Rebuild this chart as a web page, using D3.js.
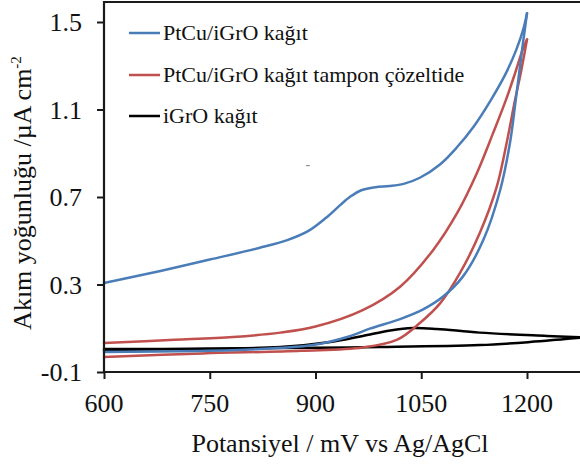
<!DOCTYPE html>
<html>
<head>
<meta charset="utf-8">
<script src="https://cdn.jsdelivr.net/npm/d3@7"></script>
</head>
<body style="margin:0">
<svg id="chart" width="580" height="468"></svg>
<script>
// Axis ticks
const xTicks = [600, 750, 900, 1050, 1200];
const yTicks = [-0.1, 0.3, 0.7, 1.1, 1.5];

// Series names and colours
const seriesNames = ["PtCu/iGrO kağıt", "PtCu/iGrO kağıt tampon çözeltide", "iGrO kağıt"];
const seriesColors = ["#4a7db8", "#c0504d", "#000000"];

// Cyclic voltammograms: [potential (mV), current density (µA cm-2)]
// PtCu/iGrO paper: anodic sweep and return sweep
const ptcuForward = [[600, 0.307], [680, 0.362], [750, 0.414], [821, 0.468], [860, 0.503], [890, 0.545],
  [915, 0.605], [935, 0.663], [950, 0.703], [965, 0.731], [985, 0.745], [1005, 0.750], [1025, 0.760],
  [1048, 0.788], [1077, 0.850], [1100, 0.925], [1125, 1.025], [1150, 1.150], [1170, 1.265], [1185, 1.375],
  [1195, 1.47], [1200, 1.54]];
const ptcuReverse = [[600, -0.009], [736, -0.004], [821, 0.005], [896, 0.023], [945, 0.060], [977, 0.098],
  [1020, 0.142], [1052, 0.185], [1081, 0.245], [1109, 0.336], [1138, 0.503], [1162, 0.732], [1176, 0.950],
  [1184, 1.143], [1193, 1.372], [1200, 1.54]];

// PtCu/iGrO paper in buffer solution
const bufferForward = [[600, 0.033], [700, 0.047], [783, 0.060], [850, 0.080], [900, 0.108], [967, 0.183],
  [1020, 0.290], [1067, 0.458], [1101, 0.627], [1129, 0.810], [1152, 0.993], [1170, 1.143], [1183, 1.265],
  [1194, 1.375], [1200, 1.42]];
const bufferReverse = [[600, -0.031], [740, -0.015], [880, -0.003], [967, 0.012], [1016, 0.048], [1048, 0.124],
  [1077, 0.215], [1105, 0.353], [1133, 0.535], [1157, 0.746], [1172, 0.961], [1183, 1.143], [1192, 1.281],
  [1200, 1.42]];

// Bare iGrO paper
const igroForward = [[600, 0.005], [850, 0.014], [921, 0.037], [967, 0.065], [1006, 0.090], [1038, 0.101],
  [1072, 0.097], [1133, 0.080], [1228, 0.065], [1280, 0.058]];
const igroReverse = [[600, 0.001], [850, 0.010], [992, 0.014], [1133, 0.023], [1204, 0.037], [1251, 0.050],
  [1280, 0.058]];

const seriesData = [
  [ptcuForward, ptcuReverse],
  [bufferForward, bufferReverse],
  [igroForward, igroReverse]
];

const serif = "Liberation Serif";
const svg = d3.select("#chart");
const chartW = 580;
const plotLeft = 104, plotBottom = 372, plotTop = 2;

const x = d3.scaleLinear().domain([600, 1200]).range([plotLeft, 527]);
const y = d3.scaleLinear().domain([-0.1, 1.5]).range([plotBottom, 22]);

const axisColor = "#1a1a1a";

// Curves (drawn first so the axes sit on top)
const line = d3.line()
  .x(d => x(d[0]))
  .y(d => y(d[1]))
  .curve(d3.curveCatmullRom.alpha(0.5));

const plot = svg.append("g");
// black trace first, then red, then blue on top
[2, 1, 0].forEach(i => {
  seriesData[i].forEach(branch => {
    plot.append("path")
      .attr("d", line(branch))
      .attr("fill", "none")
      .attr("stroke", seriesColors[i])
      .attr("stroke-width", 2.5)
      .attr("stroke-linejoin", "round")
      .attr("stroke-linecap", "round");
  });
});

// helper: serif text element
function serifText(parent, size) {
  return parent.append("text")
    .style("font-family", serif)
    .attr("font-size", size)
    .attr("fill", "#111");
}

// small stray mark inside the plot
serifText(svg, 14)
  .attr("x", x(889))
  .attr("y", y(0.83))
  .attr("text-anchor", "middle")
  .attr("fill", "#888")
  .text("-");

// Frame lines
svg.append("line")
  .attr("x1", plotLeft).attr("x2", chartW).attr("y1", plotTop).attr("y2", plotTop)
  .attr("stroke", axisColor).attr("stroke-width", 2.2);
svg.append("line")
  .attr("x1", plotLeft).attr("x2", plotLeft).attr("y1", plotTop - 1).attr("y2", plotBottom + 1)
  .attr("stroke", axisColor).attr("stroke-width", 2.2);
svg.append("line")
  .attr("x1", plotLeft - 1).attr("x2", chartW).attr("y1", plotBottom).attr("y2", plotBottom)
  .attr("stroke", axisColor).attr("stroke-width", 2.2);

// X axis: ticks from d3, labels placed at the tick positions
const gx = svg.append("g")
  .attr("transform", `translate(0,${plotBottom})`)
  .call(d3.axisBottom(x).tickValues(xTicks).tickSize(7).tickFormat(""));
gx.select(".domain").remove();
gx.selectAll(".tick line").attr("stroke", axisColor).attr("stroke-width", 2);
xTicks.forEach(v => {
  serifText(svg, 26)
    .attr("x", x(v))
    .attr("y", 412)
    .attr("text-anchor", "middle")
    .text(d3.format("d")(v));
});

// Y axis
const gy = svg.append("g")
  .attr("transform", `translate(${plotLeft},0)`)
  .call(d3.axisLeft(y).tickValues(yTicks).tickSize(7).tickFormat(""));
gy.select(".domain").remove();
gy.selectAll(".tick line").attr("stroke", axisColor).attr("stroke-width", 2);
yTicks.forEach(v => {
  serifText(svg, 26)
    .attr("x", 82)
    .attr("y", y(v) + 9)
    .attr("text-anchor", "end")
    .text(v.toFixed(1));
});

// Axis titles
serifText(svg, 26)
  .attr("x", 340)
  .attr("y", 452)
  .attr("text-anchor", "middle")
  .text("Potansiyel / mV vs Ag/AgCl");

const yt = serifText(svg, 26)
  .attr("transform", "translate(31,193) rotate(-90)")
  .attr("text-anchor", "middle");
yt.append("tspan").text("Akım yoğunluğu /µA cm");
yt.append("tspan").attr("font-size", 15).attr("dy", -10).text("-2");

// Legend
const legendY = [33, 75, 116];
seriesNames.forEach((name, i) => {
  svg.append("line")
    .attr("x1", 129).attr("x2", 160)
    .attr("y1", legendY[i]).attr("y2", legendY[i])
    .attr("stroke", seriesColors[i])
    .attr("stroke-width", 2.5);
  serifText(svg, 22)
    .attr("x", 163)
    .attr("y", legendY[i] + 7)
    .text(name);
});
</script>
</body>
</html>
